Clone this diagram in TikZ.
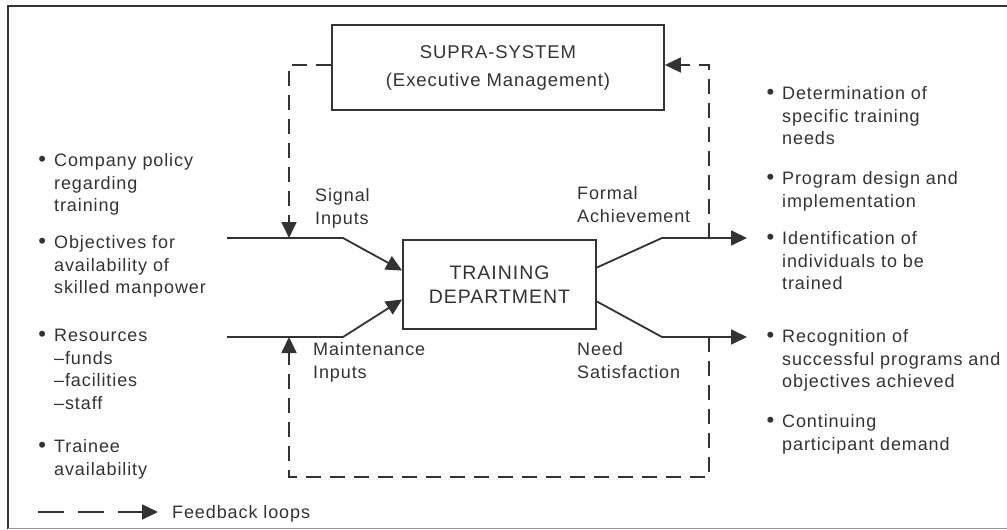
\documentclass[tikz,border=0pt]{standalone}
\usepackage{fontspec}
\setmainfont{Liberation Sans}
\newfontfamily\dfont[LetterSpace=5]{Liberation Sans}
\usetikzlibrary{arrows.meta}
\definecolor{ink}{HTML}{333333}
\newcommand{\bul}{\llap{\raisebox{0.5pt}{\fontsize{22}{22}\selectfont\textbullet}\hspace{8pt}}}
\begin{document}
\begin{tikzpicture}[x=1pt,y=-1pt,
  every node/.style={text=ink},
  txt/.style={font=\dfont\fontsize{18}{22.5}\selectfont, align=left, inner sep=0pt, anchor=north west},
  lbl/.style={font=\dfont\fontsize{18}{23}\selectfont, align=left, inner sep=0pt, anchor=north west},
  boxnode/.style={draw=ink, line width=1.8pt, inner sep=0pt, align=center},
  flow/.style={draw=ink, line width=1.8pt},
  fb/.style={draw=ink, line width=1.8pt, dash pattern=on 15pt off 9pt},
  tip/.style={-{Triangle[length=16pt,width=15pt]}},
]
\useasboundingbox (0,0) rectangle (1007,530);
% frame
\draw[ink, line width=2pt] (8,529) -- (8,6) -- (1007,6);
\draw[ink!50, line width=1pt] (8,528) -- (1007,528);

% boxes
\node[boxnode, minimum width=332pt, minimum height=85pt,
      font=\dfont\fontsize{18.5}{28}\selectfont] (supra) at (498,67.5)
      {SUPRA-SYSTEM\\(Executive Management)};
\node[boxnode, minimum width=193pt, minimum height=89pt,
      font=\dfont\fontsize{19.5}{24}\selectfont] (train) at (499.5,284.5)
      {TRAINING\\DEPARTMENT};

% connector points
\coordinate (sigL) at (227,238);
\coordinate (sigK) at (343,238);
\coordinate (sigF) at (289,238);
\coordinate (manL) at (227,337);
\coordinate (manK) at (343,337);
\coordinate (manF) at (289,337);
\coordinate (forK) at (662,238);
\coordinate (forT) at (747,238);
\coordinate (forF) at (709,238);
\coordinate (neeK) at (662,337);
\coordinate (neeT) at (747,337);
\coordinate (neeF) at (709,337);
\coordinate (tl) at (289,65);
\coordinate (tr) at (709,65);
\coordinate (bl) at (289,477);
\coordinate (br) at (709,477);

% inputs
\draw[flow, tip] (sigL) -- (sigK) -- ([yshift=14pt]train.west);
\draw[flow, tip] (manL) -- (manK) -- ([yshift=-15pt]train.west);
% outputs
\draw[flow, tip] ([yshift=17pt]train.east) -- (forK) -- (forT);
\draw[flow, tip] ([yshift=-17pt]train.east) -- (neeK) -- (neeT);
% feedback loops
\draw[fb, tip] ([yshift=2.5pt]supra.west) -- (tl) -- (sigF);
\draw[fb, tip] (forF) -- (tr) -- ([yshift=2.5pt]supra.east);
\draw[fb, tip] (neeF) -- (br) -- (bl) -- (manF);

% labels
\node[lbl] (sig) at (315,188.3) {Signal\\Inputs};
\node[lbl] (man) at (313,342.3) {Maintenance\\Inputs};
\node[lbl] (for) at (577,186.3) {Formal\\Achievement};
\node[lbl] (nee) at (577,342.3) {Need\\Satisfaction};

% left list
\node[txt] (l1) at (54,153.3) {\bul Company policy\\regarding\\training};
\node[txt] (l2) at (54,235.3) {\bul Objectives for\\availability of\\skilled manpower};
\node[txt] (l3) at (54,329.3) {\bul Resources\\–funds\\–facilities\\–staff};
\node[txt] (l4) at (54,439.3) {\bul Trainee\\availability};

% right list
\node[txt] (r1) at (782,86.3) {\bul Determination of\\specific training\\needs};
\node[txt] (r2) at (782,171.3) {\bul Program design and\\implementation};
\node[txt] (r3) at (782,231.3) {\bul Identification of\\individuals to be\\trained};
\node[txt] (r4) at (782,329.3) {\bul Recognition of\\successful programs and\\objectives achieved};
\node[txt] (r5) at (782,414.3) {\bul Continuing\\participant demand};

% legend
\coordinate (legA) at (38,512);
\coordinate (legB) at (158,512);
\draw[draw=ink, line width=1.8pt, dash pattern=on 26pt off 14pt, tip] (legA) -- (legB);
\node[font=\dfont\fontsize{18}{22}\selectfont, inner sep=0pt, anchor=base west] (leg) at (172,518) {Feedback loops};
\end{tikzpicture}
\end{document}
